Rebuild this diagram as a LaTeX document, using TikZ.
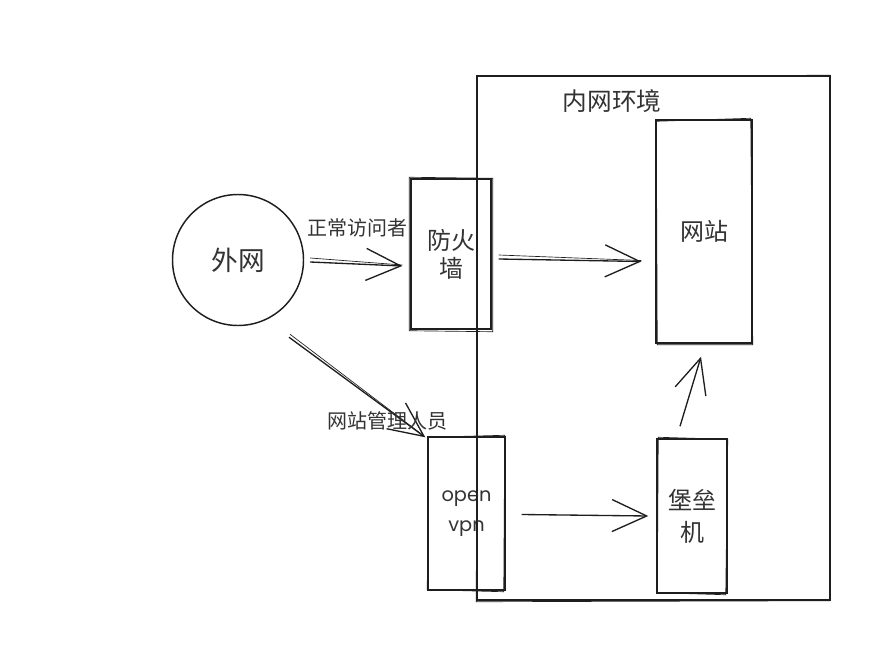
\documentclass[tikz,border=0pt]{standalone}
\usepackage{fontspec}
\setmainfont{Poppins}
\newfontfamily\cjk{Noto Sans CJK SC}
\usetikzlibrary{arrows.meta,calc}
\definecolor{ink}{HTML}{1E1E1E}
\definecolor{txt}{HTML}{333333}
\tikzset{
  sk/.style={draw=ink, line width=1.1pt},
  boxnode/.style={sk, rectangle, inner sep=0pt, align=center, text=txt},
  arr/.style={draw=ink, line width=1pt, -{Straight Barb[length=26pt,width=24pt,line width=1pt]}},
  lbl/.style={text=txt, inner sep=0pt, font=\cjk\fontsize{15pt}{17pt}\selectfont}
}
\begin{document}
\begin{tikzpicture}[x=0.75pt,y=-0.75pt]
\useasboundingbox[fill=white] (0,0) rectangle (874,671);
% outer environment box
\node[boxnode, minimum width=264.75pt, minimum height=393pt] (env) at (653.5,338) {};
\node[lbl, font=\cjk\fontsize{18.5pt}{20pt}\selectfont] (envl) at (612,101) {内网环境};
% nodes
\node[boxnode, circle, minimum size=98.25pt, font=\cjk\fontsize{20pt}{24pt}\selectfont] (wan) at (238,260) {外网};
\node[boxnode, minimum width=60pt, minimum height=112.5pt, font=\cjk\fontsize{18pt}{21pt}\selectfont] (fw) at (451,254) {防火\\墙};
\node[boxnode, minimum width=72pt, minimum height=167.25pt, font=\cjk\fontsize{18pt}{21pt}\selectfont] (web) at (704,231.5) {网站};
\node[boxnode, minimum width=57.75pt, minimum height=114.75pt, font=\fontsize{14.5pt}{22.5pt}\selectfont] (vpn) at (466.5,513.5) {open\\vpn};
\node[boxnode, minimum width=52.5pt, minimum height=115.5pt, font=\cjk\fontsize{18pt}{24pt}\selectfont] (bastion) at (692,516) {堡垒\\机};
% sketch doubles for boxes
\draw[ink, line width=0.5pt] ($(fw.north west)+(-1,-1)$) -- ($(fw.north east)+(1,0)$) -- ($(fw.south east)+(1,2)$) -- ($(fw.south west)+(-1,1)$) -- cycle;
\draw[ink, line width=0.5pt] ($(web.north west)+(1,2)$) -- ($(web.north east)+(-2,-1)$) -- ($(web.south east)+(0,1)$) -- ($(web.south west)+(2,1)$) -- cycle;
\draw[ink, line width=0.5pt] ($(vpn.north west)+(1,1)$) -- ($(vpn.north east)+(-1,-1)$) -- ($(vpn.south east)+(-2,1)$) -- ($(vpn.south west)+(0,-1)$) -- cycle;
\draw[ink, line width=0.5pt] ($(bastion.north west)+(2,-1)$) -- ($(bastion.north east)+(0,1)$) -- ($(bastion.south east)+(-2,1)$) -- ($(bastion.south west)+(1,-1)$) -- cycle;
\draw[ink, line width=0.5pt] ($(env.north west)+(1,1)$) -- ($(env.north east)+(-1,0)$) -- ($(env.south east)+(-1,0)$) -- ($(env.south west)+(0,1)$) -- cycle;
% connectors
\draw[arr] ($(wan.east)+(6,2)$) -- ($(fw.west)+(-8,12)$);
\draw[ink, line width=0.5pt] ($(wan.east)+(6,-2)$) -- ($(fw.west)+(-8,11)$);
\node[lbl] (l1) at (357,228) {正常访问者};
\draw[arr] ($(fw.east)+(7,5)$) -- ($(web.west)+(-14,30)$);
\draw[ink, line width=0.5pt] ($(fw.east)+(7,1)$) -- ($(web.west)+(-14,29)$);
\draw[arr] ($(wan.south)+(51,11)$) -- ($(vpn.north west)+(-2,1)$);
\draw[ink, line width=0.5pt] ($(wan.south)+(52,8)$) -- ($(vpn.north west)+(-3,0)$);
\node[lbl] (l2) at (387,421) {网站管理人员};
\draw[arr] ($(vpn.east)+(16,1)$) -- ($(bastion.west)+(-8,0)$);
\draw[arr] ($(bastion.north)+(-12,-12)$) -- ($(web.south)+(-3,13)$);
\end{tikzpicture}
\end{document}
